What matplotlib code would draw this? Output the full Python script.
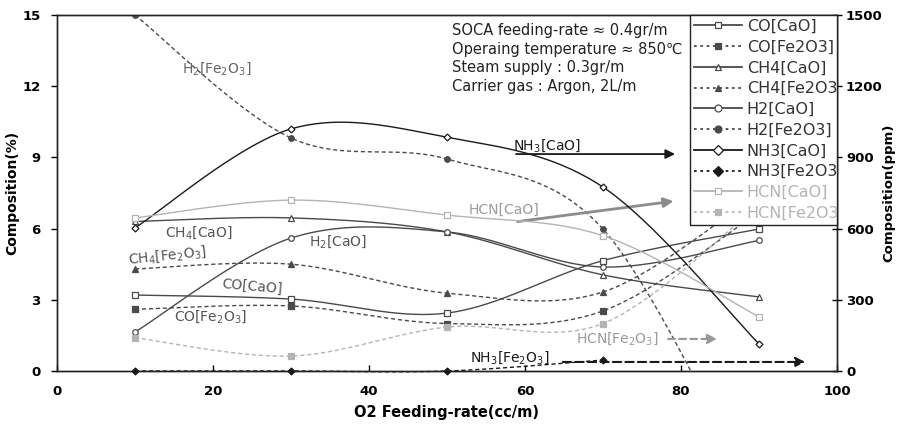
import matplotlib
matplotlib.use("Agg")
import matplotlib.pyplot as plt
from matplotlib.lines import Line2D
import numpy as np

plt.rcParams['font.family'] = ['DejaVu Sans', 'Noto Sans CJK KR']
plt.rcParams['mathtext.default'] = 'regular'

# O2 feeding rate (cc/m)
o2_rate = [10, 30, 50, 70, 90]

# gas composition, %  (left axis)
co_cao = [3.2, 3.03, 2.44, 4.65, 5.98]
co_fe2o3 = [2.6, 2.74, 2.0, 2.53, 6.7]
ch4_cao = [6.3, 6.45, 5.86, 4.05, 3.12]
ch4_fe2o3 = [4.3, 4.5, 3.28, 3.33, 7.5]
h2_cao = [1.64, 5.6, 5.86, 4.38, 5.5]
h2_fe2o3 = [15.0, 9.82, 8.93, 5.98, -5.6]

# trace species, ppm  (right axis)
nh3_cao = [603, 1020, 985, 775, 114]
nh3_fe2o3 = [0, 0, 0, 46, np.nan]
hcn_cao = [645, 720, 657, 570, 228]
hcn_fe2o3 = [140, 63, 185, 200, 700]

DARK = '#4a4a4a'
BLACK = '#1a1a1a'
LIGHT = '#b4b4b4'
DASH = (0, (3, 2))


def smooth(x, y, n=40):
    # excel-like smoothed line: cubic bezier, catmull-rom style control points
    pts = np.array([(a, b) for a, b in zip(x, y) if not np.isnan(b)], float)
    t = np.linspace(0, 1, n)[:, None]
    out = []
    for i in range(len(pts) - 1):
        p0 = pts[i - 1] if i > 0 else pts[i]
        p1, p2 = pts[i], pts[i + 1]
        p3 = pts[i + 2] if i + 2 < len(pts) else pts[i + 1]
        c1 = p1 + (p2 - p0) / 6
        c2 = p2 - (p3 - p1) / 6
        seg = ((1 - t) ** 3) * p1 + 3 * ((1 - t) ** 2) * t * c1 + 3 * (1 - t) * t ** 2 * c2 + t ** 3 * p2
        out.append(seg if i == 0 else seg[1:])
    out = np.vstack(out)
    return out[:, 0], out[:, 1]


fig = plt.figure(figsize=(8.99, 4.28), dpi=100)
ax = fig.add_axes([0.0634, 0.1332, 0.8676, 0.8318])
ax2 = ax.twinx()

series = [
    ('CO[CaO]', co_cao, ax, DARK, '-', 's', False),
    ('CO[Fe2O3]', co_fe2o3, ax, DARK, DASH, 's', True),
    ('CH4[CaO]', ch4_cao, ax, DARK, '-', '^', False),
    ('CH4[Fe2O3]', ch4_fe2o3, ax, DARK, DASH, '^', True),
    ('H2[CaO]', h2_cao, ax, DARK, '-', 'o', False),
    ('H2[Fe2O3]', h2_fe2o3, ax, DARK, DASH, 'o', True),
    ('NH3[CaO]', nh3_cao, ax2, BLACK, '-', 'D', False),
    ('NH3[Fe2O3]', nh3_fe2o3, ax2, BLACK, DASH, 'D', True),
    ('HCN[CaO]', hcn_cao, ax2, LIGHT, '-', 's', False),
    ('HCN[Fe2O3]', hcn_fe2o3, ax2, LIGHT, DASH, 's', True),
]

handles = []
for label, vals, a, col, ls, mk, filled in series:
    sx, sy = smooth(o2_rate, vals)
    on_floor = label == 'NH3[Fe2O3]'
    a.plot(sx, sy, color=col, lw=1.0, ls=ls, clip_on=not on_floor)
    ms = 4 if mk != 'D' else 3.5
    a.plot(o2_rate, vals, ls='none', marker=mk, ms=ms, mew=0.9, color=col,
           mfc=col if filled else 'white', clip_on=not on_floor, zorder=4)
    handles.append(Line2D([], [], color=col, lw=1.3, ls=ls if ls == '-' else (0, (1.5, 2)),
                          marker=mk, ms=5, mew=0.9, mfc=col if filled else 'white', label=label))

ax.set_xlim(0, 100)
ax.set_ylim(0, 15)
ax2.set_ylim(0, 1500)
ax.set_xticks(range(0, 101, 20))
ax.set_yticks(range(0, 16, 3))
ax2.set_yticks(range(0, 1501, 300))

tick_font = dict(fontsize=9.5, fontweight='bold')
ax.set_xticklabels([str(v) for v in range(0, 101, 20)], **tick_font)
ax.set_yticklabels([str(v) for v in range(0, 16, 3)], **tick_font)
ax2.set_yticklabels([str(v) for v in range(0, 1501, 300)], **tick_font)
ax.tick_params(axis='x', direction='in', length=4, width=1, pad=10)
ax.tick_params(axis='y', direction='out', length=4, width=1, pad=8)
ax2.tick_params(axis='y', direction='inout', length=7, width=1, pad=3)

for a in (ax, ax2):
    for s in a.spines.values():
        s.set_color('#222222')
        s.set_linewidth(1.0)

ax.set_xlabel('O2 Feeding-rate(cc/m)', fontsize=10.5, fontweight='bold', labelpad=5)
ax.set_ylabel('Composition(%)', fontsize=10, fontweight='bold', labelpad=2)
ax2.set_ylabel('Composition(ppm)', fontsize=9.5, fontweight='bold', labelpad=0)

# operating conditions
ax.text(0.506, 0.978,
        'SOCA feeding-rate \u2248 0.4gr/m\n'
        'Operaing temperature \u2248 850\u2103\n'
        'Steam supply : 0.3gr/m\n'
        'Carrier gas : Argon, 2L/m',
        transform=ax.transAxes, ha='left', va='top', fontsize=10.5, linespacing=1.32,
        color='#222222')

# curve labels
lab = dict(fontsize=10, ha='left', va='center')
ax.text(16.0, 12.75, r'H$_2$[Fe$_2$O$_3$]', color='#666666', **lab)
ax.text(13.8, 5.85, r'CH$_4$[CaO]', color='#555555', **lab)
ax.text(9.0, 4.85, r'CH$_4$[Fe$_2$O$_3$]', color='#555555', rotation=6, **lab)
ax.text(21.0, 3.55, 'CO[CaO]', color='#555555', rotation=-5, **lab)
ax.text(15.0, 2.3, r'CO[Fe$_2$O$_3$]', color='#555555', **lab)
ax.text(32.3, 5.45, r'H$_2$[CaO]', color='#555555', **lab)
ax.text(58.5, 9.5, r'NH$_3$[CaO]', color=BLACK, **lab)
ax.text(52.8, 6.8, 'HCN[CaO]', color='#9a9a9a', **lab)
ax.text(66.5, 1.35, r'HCN[Fe$_2$O$_3$]', color='#9a9a9a', **lab)
ax.text(53.0, 0.55, r'NH$_3$[Fe$_2$O$_3$]', color=BLACK, **lab)

arrow_kw = dict(xycoords='data', textcoords='data')
ax.annotate('', xy=(79.6, 9.14), xytext=(58.5, 9.14), **arrow_kw,
            arrowprops=dict(arrowstyle='-|>', color=BLACK, lw=1.3, mutation_scale=14))
ax.annotate('', xy=(79.4, 7.17), xytext=(58.7, 6.28), **arrow_kw,
            arrowprops=dict(arrowstyle='-|>', color='#8c8c8c', lw=2.0, mutation_scale=14))
ax.annotate('', xy=(85.0, 1.35), xytext=(78.0, 1.35), **arrow_kw,
            arrowprops=dict(arrowstyle='-|>', color='#999999', lw=1.6, ls=(0, (3, 2)),
                            mutation_scale=14))
ax.annotate('', xy=(96.3, 0.38), xytext=(64.5, 0.38), **arrow_kw,
            arrowprops=dict(arrowstyle='-|>', color=BLACK, lw=1.5, ls=(0, (4, 2)),
                            mutation_scale=14))

leg = ax2.legend(handles=handles, loc='upper left', bbox_to_anchor=(0.8115, 0.404, 0.1885, 0.596),
                 mode='expand', borderaxespad=0, numpoints=1, fontsize=11.5,
                 handlelength=3.0, handletextpad=0.3, labelspacing=0.36, borderpad=0.25,
                 fancybox=False, framealpha=1, edgecolor='#222222')
leg.get_frame().set_linewidth(1.0)
for txt, (label, *_rest) in zip(leg.get_texts(), series):
    txt.set_color(LIGHT if label.startswith('HCN') else '#333333')
    txt.set_clip_box(ax.bbox)
    txt.set_clip_on(True)

fig.savefig('out.png', dpi=100)
